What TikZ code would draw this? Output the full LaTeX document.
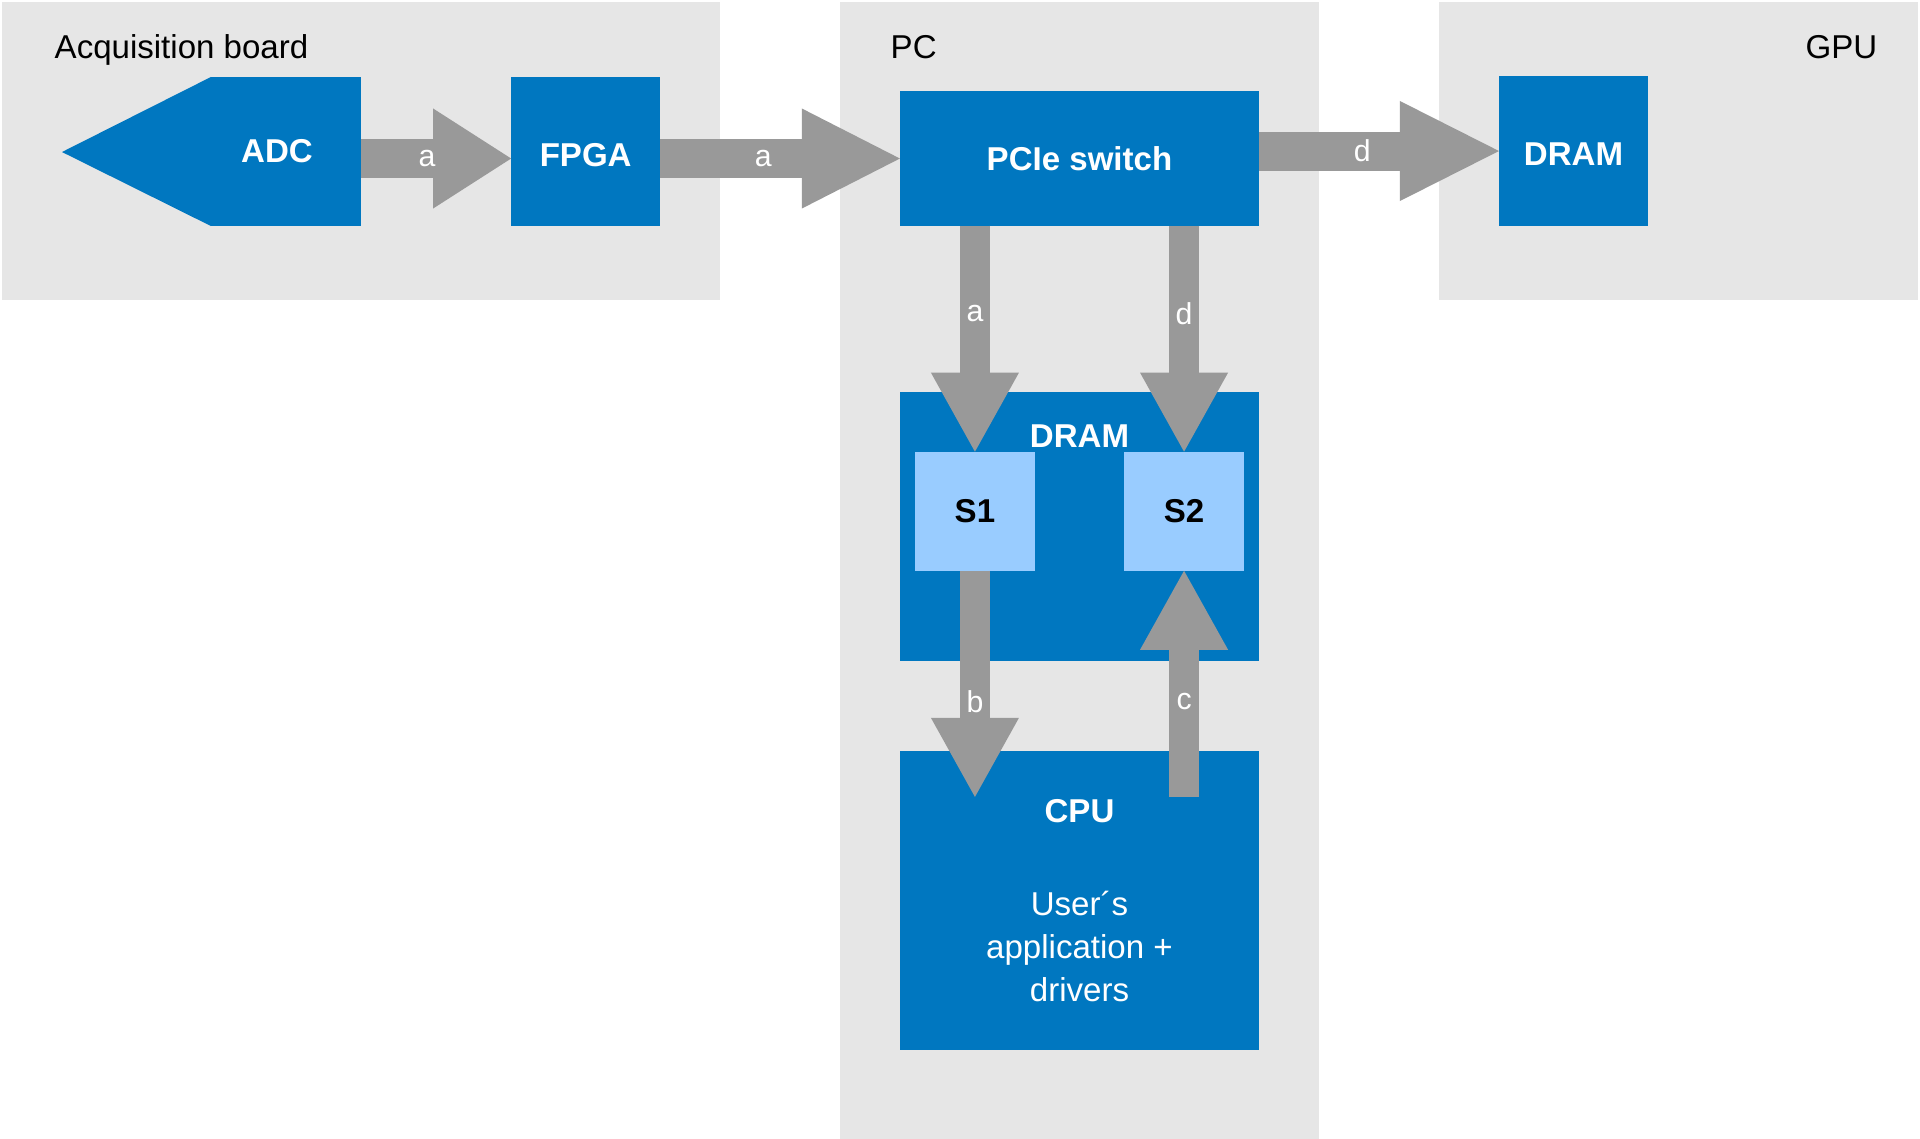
\documentclass[tikz,border=0pt]{standalone}
\usepackage{fontspec}
\setmainfont{Liberation Sans}
\usetikzlibrary{arrows.meta, positioning}
\definecolor{boxblue}{HTML}{0077C0}
\definecolor{slotblue}{HTML}{99CCFF}
\definecolor{flowgray}{HTML}{999999}
\definecolor{panelgray}{HTML}{E6E6E6}
\newcommand\boxfont{\fontsize{9.4}{12.2}\selectfont}
\newcommand\tagfont{\fontsize{8.6}{10.3}\selectfont}

\begin{document}
\begin{tikzpicture}[x=0.01cm, y=-0.01cm,
panel/.style={rectangle, fill=panelgray, anchor=north west, inner sep=0pt, outer sep=0pt},
title/.style={font=\boxfont, inner sep=0pt},
block/.style={rectangle, fill=boxblue, text=white, font=\boxfont\bfseries, inner sep=0pt, outer sep=0pt, minimum width=1.49cm, minimum height=1.49cm},
slot/.style={rectangle, fill=slotblue, font=\boxfont\bfseries, inner sep=0pt, outer sep=0pt, minimum width=1.2cm, minimum height=1.19cm},
hflow/.style={draw=flowgray, line width=0.39cm, -{Triangle[width=1cm, length=#1, line width=0pt]}},
hflow/.default=0.78cm,
vflow/.style={draw=flowgray, line width=0.3cm, -{Triangle[width=0.88cm, length=0.79cm, line width=0pt]}},
tag/.style={text=white, font=\tagfont, inner sep=0pt}
]
\useasboundingbox (0,0) rectangle (1920,1138);
% background panels
\node[panel, minimum width=7.18cm, minimum height=2.98cm] (acq) at (2,2) {};
\node[panel, minimum width=4.79cm, minimum height=11.36cm] (pc) at (840,2) {};
\node[panel, minimum width=4.79cm, minimum height=2.98cm] (gpu) at (1439,2) {};
\node[title, anchor=base west] (acqname) at (54,58) {Acquisition board};
\node[title, anchor=base west] (pcname) at (890,58) {PC};
\node[title, anchor=base east] (gpuname) at (1878,58) {GPU};

% acquisition board
\node[block, minimum width=1.5cm] (adc) at (286,151.5) {ADC\kern0.18cm};
\coordinate (adctip) at (62,152);
\fill[boxblue] (adc.north west) -- (adctip) -- (adc.south west) -- cycle;
\node[block, right=1.5cm of adc, text height=0.29cm, text depth=0pt] (fpga) {FPGA};

% PC
\node[block, minimum width=3.59cm, minimum height=1.34cm] (pcie) at (1079.5,158.5) {PCIe switch};
\node[block, minimum width=3.59cm, minimum height=2.69cm, below=1.66cm of pcie] (pdram) {};
\node[text=white, font=\boxfont\bfseries, inner sep=0pt] (pdramname) at (1079.5,436) {DRAM};
\node[slot, anchor=north west] (s1) at ([xshift=0.15cm, yshift=-0.6cm]pdram.north west) {S1};
\node[slot, anchor=north east] (s2) at ([xshift=-0.15cm, yshift=-0.6cm]pdram.north east) {S2};
\node[block, minimum width=3.59cm, minimum height=2.99cm, below=0.9cm of pdram, align=center, font=\boxfont] (cpu) {\textbf{CPU}\\[0.5cm]User´s\\application +\\drivers};

% GPU
\node[block, text height=0.29cm, text depth=0pt] (gdram) at (1573.5,151) {DRAM};

% data paths
\draw[hflow] (adc.east |- pcie.west) -- node[tag, pos=0.44] (ta1) {a} (fpga.west |- pcie.west);
\draw[hflow=0.98cm] (fpga.east |- pcie.west) -- node[tag, pos=0.43] (ta2) {a} (pcie.west);
\draw[hflow=0.99cm] (pcie.east |- gdram.west) -- node[tag, pos=0.43] (td1) {d} (gdram.west);
\draw[vflow] (s1 |- pcie.south) -- node[tag, pos=0.39] (ta3) {a} (s1.north);
\draw[vflow] (s2 |- pcie.south) -- node[tag, pos=0.39] (td2) {d} (s2.north);
\coordinate (cpuport) at ([yshift=-0.46cm]cpu.north);
\draw[vflow] (s1.south) -- node[tag, pos=0.58] (tb) {b} (s1.south |- cpuport);
\draw[vflow] (s2.south |- cpuport) -- node[tag, pos=0.42] (tc) {c} (s2.south);
\end{tikzpicture}
\end{document}
